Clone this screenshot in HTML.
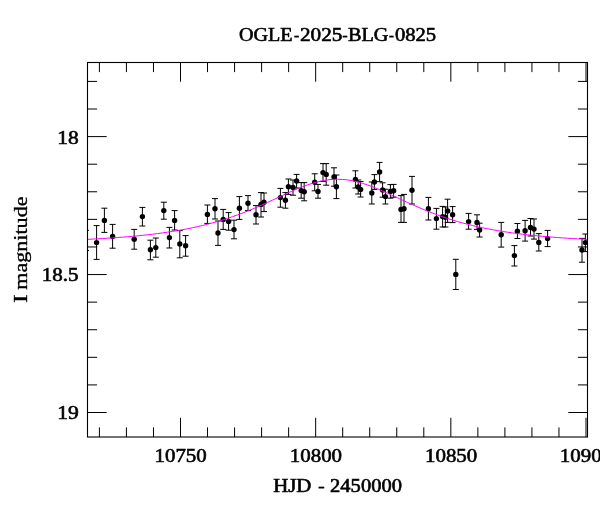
<!DOCTYPE html>
<html><head><meta charset="utf-8"><title>OGLE-2025-BLG-0825</title>
<style>
html,body{margin:0;padding:0;background:#fff;}
body{width:600px;height:512px;overflow:hidden;}
svg{display:block;}
text{font-family:"Liberation Serif",serif;fill:#000;font-kerning:none;}
</style></head><body>
<svg width="600" height="512" viewBox="0 0 600 512">
<rect width="600" height="512" fill="#fff"/>
<path d="M99.40 437.0v-9.6M99.40 62.5v9.6M126.43 437.0v-9.6M126.43 62.5v9.6M153.47 437.0v-9.6M153.47 62.5v9.6M180.50 437.0v-19.2M180.50 62.5v19.2M207.53 437.0v-9.6M207.53 62.5v9.6M234.57 437.0v-9.6M234.57 62.5v9.6M261.60 437.0v-9.6M261.60 62.5v9.6M288.63 437.0v-9.6M288.63 62.5v9.6M315.66 437.0v-19.2M315.66 62.5v19.2M342.70 437.0v-9.6M342.70 62.5v9.6M369.73 437.0v-9.6M369.73 62.5v9.6M396.76 437.0v-9.6M396.76 62.5v9.6M423.80 437.0v-9.6M423.80 62.5v9.6M450.83 437.0v-19.2M450.83 62.5v19.2M477.86 437.0v-9.6M477.86 62.5v9.6M504.90 437.0v-9.6M504.90 62.5v9.6M531.93 437.0v-9.6M531.93 62.5v9.6M558.96 437.0v-9.6M558.96 62.5v9.6M586.00 437.0v-19.2M586.00 62.5v19.2M87.5 81.42h9.6M587.5 81.42h-9.6M87.5 109.01h9.6M587.5 109.01h-9.6M87.5 136.60h19.2M587.5 136.60h-19.2M87.5 164.19h9.6M587.5 164.19h-9.6M87.5 191.78h9.6M587.5 191.78h-9.6M87.5 219.37h9.6M587.5 219.37h-9.6M87.5 246.96h9.6M587.5 246.96h-9.6M87.5 274.55h19.2M587.5 274.55h-19.2M87.5 302.14h9.6M587.5 302.14h-9.6M87.5 329.73h9.6M587.5 329.73h-9.6M87.5 357.32h9.6M587.5 357.32h-9.6M87.5 384.91h9.6M587.5 384.91h-9.6M87.5 412.50h19.2M587.5 412.50h-19.2" stroke="#000" stroke-width="1.0" fill="none"/>
<clipPath id="c"><rect x="87.5" y="62.5" width="500.0" height="374.5"/></clipPath>
<g clip-path="url(#c)"><path d="M86.0 230.3V250.5M83.0 230.3h6.0M83.0 250.5h6.0M96.6 225.6V259.4M93.6 225.6h6.0M93.6 259.4h6.0M104.4 208.2V232.4M101.4 208.2h6.0M101.4 232.4h6.0M112.6 224.4V248.2M109.6 224.4h6.0M109.6 248.2h6.0M134.2 229.4V249.2M131.2 229.4h6.0M131.2 249.2h6.0M142.4 207.4V226.0M139.4 207.4h6.0M139.4 226.0h6.0M150.4 240.2V259.8M147.4 240.2h6.0M147.4 259.8h6.0M155.8 238.0V257.2M152.8 238.0h6.0M152.8 257.2h6.0M163.8 202.2V219.2M160.8 202.2h6.0M160.8 219.2h6.0M169.4 227.4V248.0M166.4 227.4h6.0M166.4 248.0h6.0M174.6 210.6V230.0M171.6 210.6h6.0M171.6 230.0h6.0M179.8 230.6V257.8M176.8 230.6h6.0M176.8 257.8h6.0M185.6 235.6V256.2M182.6 235.6h6.0M182.6 256.2h6.0M207.4 205.0V223.4M204.4 205.0h6.0M204.4 223.4h6.0M215.0 198.6V219.0M212.0 198.6h6.0M212.0 219.0h6.0M218.0 221.0V245.4M215.0 221.0h6.0M215.0 245.4h6.0M223.2 209.4V229.4M220.2 209.4h6.0M220.2 229.4h6.0M228.6 212.6V230.2M225.6 212.6h6.0M225.6 230.2h6.0M234.0 220.2V238.8M231.0 220.2h6.0M231.0 238.8h6.0M239.4 196.6V219.4M236.4 196.6h6.0M236.4 219.4h6.0M248.0 195.6V210.6M245.0 195.6h6.0M245.0 210.6h6.0M256.0 205.6V224.0M253.0 205.6h6.0M253.0 224.0h6.0M261.0 192.6V217.0M258.0 192.6h6.0M258.0 217.0h6.0M264.0 193.0V211.6M261.0 193.0h6.0M261.0 211.6h6.0M280.4 188.4V207.2M277.4 188.4h6.0M277.4 207.2h6.0M285.4 192.6V208.2M282.4 192.6h6.0M282.4 208.2h6.0M288.4 179.0V194.4M285.4 179.0h6.0M285.4 194.4h6.0M293.0 180.0V195.2M290.0 180.0h6.0M290.0 195.2h6.0M296.6 174.4V188.0M293.6 174.4h6.0M293.6 188.0h6.0M301.2 182.6V198.2M298.2 182.6h6.0M298.2 198.2h6.0M304.2 182.6V200.8M301.2 182.6h6.0M301.2 200.8h6.0M314.7 173.8V190.8M311.7 173.8h6.0M311.7 190.8h6.0M318.0 184.4V198.2M315.0 184.4h6.0M315.0 198.2h6.0M323.0 163.6V181.4M320.0 163.6h6.0M320.0 181.4h6.0M326.2 163.6V185.2M323.2 163.6h6.0M323.2 185.2h6.0M334.0 167.8V186.2M331.0 167.8h6.0M331.0 186.2h6.0M336.4 175.0V198.6M333.4 175.0h6.0M333.4 198.6h6.0M355.4 170.8V188.0M352.4 170.8h6.0M352.4 188.0h6.0M358.2 180.0V194.0M355.2 180.0h6.0M355.2 194.0h6.0M360.6 181.6V197.0M357.6 181.6h6.0M357.6 197.0h6.0M371.8 182.0V204.0M368.8 182.0h6.0M368.8 204.0h6.0M374.4 174.6V189.4M371.4 174.6h6.0M371.4 189.4h6.0M379.6 162.4V181.6M376.6 162.4h6.0M376.6 181.6h6.0M382.6 182.8V197.2M379.6 182.8h6.0M379.6 197.2h6.0M385.4 189.2V204.0M382.4 189.2h6.0M382.4 204.0h6.0M390.4 184.6V198.2M387.4 184.6h6.0M387.4 198.2h6.0M393.6 184.4V197.2M390.6 184.4h6.0M390.6 197.2h6.0M401.0 195.6V222.4M398.0 195.6h6.0M398.0 222.4h6.0M404.0 194.4V222.4M401.0 194.4h6.0M401.0 222.4h6.0M412.0 176.4V204.0M409.0 176.4h6.0M409.0 204.0h6.0M428.4 197.4V220.0M425.4 197.4h6.0M425.4 220.0h6.0M436.4 208.4V229.2M433.4 208.4h6.0M433.4 229.2h6.0M442.6 206.4V227.0M439.6 206.4h6.0M439.6 227.0h6.0M445.4 207.0V227.0M442.4 207.0h6.0M442.4 227.0h6.0M447.6 199.2V222.4M444.6 199.2h6.0M444.6 222.4h6.0M452.6 206.6V222.6M449.6 206.6h6.0M449.6 222.6h6.0M455.8 259.3V289.5M452.8 259.3h6.0M452.8 289.5h6.0M468.6 213.4V229.2M465.6 213.4h6.0M465.6 229.2h6.0M477.0 214.8V229.4M474.0 214.8h6.0M474.0 229.4h6.0M479.6 223.2V237.0M476.6 223.2h6.0M476.6 237.0h6.0M501.2 222.4V247.1M498.2 222.4h6.0M498.2 247.1h6.0M514.4 245.6V266.0M511.4 245.6h6.0M511.4 266.0h6.0M517.4 223.5V238.5M514.4 223.5h6.0M514.4 238.5h6.0M525.1 220.4V241.1M522.1 220.4h6.0M522.1 241.1h6.0M530.5 218.5V236.0M527.5 218.5h6.0M527.5 236.0h6.0M534.0 219.0V239.1M531.0 219.0h6.0M531.0 239.1h6.0M538.8 233.6V251.0M535.8 233.6h6.0M535.8 251.0h6.0M547.6 230.4V246.6M544.6 230.4h6.0M544.6 246.6h6.0M582.0 238.4V262.2M579.0 238.4h6.0M579.0 262.2h6.0M585.4 234.0V251.6M582.4 234.0h6.0M582.4 251.6h6.0" stroke="#000" stroke-width="1.0" fill="none"/>
<circle cx="96.6" cy="242.6" r="2.7"/><circle cx="104.4" cy="220.4" r="2.7"/><circle cx="112.6" cy="236.4" r="2.7"/><circle cx="134.2" cy="239.2" r="2.7"/><circle cx="142.4" cy="216.6" r="2.7"/><circle cx="150.4" cy="249.8" r="2.7"/><circle cx="155.8" cy="247.6" r="2.7"/><circle cx="163.8" cy="210.6" r="2.7"/><circle cx="169.4" cy="237.6" r="2.7"/><circle cx="174.6" cy="220.4" r="2.7"/><circle cx="179.8" cy="244.0" r="2.7"/><circle cx="185.6" cy="245.8" r="2.7"/><circle cx="207.4" cy="214.4" r="2.7"/><circle cx="215.0" cy="208.8" r="2.7"/><circle cx="218.0" cy="233.0" r="2.7"/><circle cx="223.2" cy="219.4" r="2.7"/><circle cx="228.6" cy="221.4" r="2.7"/><circle cx="234.0" cy="229.6" r="2.7"/><circle cx="239.4" cy="208.2" r="2.7"/><circle cx="248.0" cy="203.2" r="2.7"/><circle cx="256.0" cy="214.8" r="2.7"/><circle cx="261.0" cy="204.4" r="2.7"/><circle cx="264.0" cy="202.2" r="2.7"/><circle cx="280.4" cy="197.6" r="2.7"/><circle cx="285.4" cy="200.2" r="2.7"/><circle cx="288.4" cy="186.8" r="2.7"/><circle cx="293.0" cy="187.4" r="2.7"/><circle cx="296.6" cy="181.0" r="2.7"/><circle cx="301.2" cy="190.6" r="2.7"/><circle cx="304.2" cy="191.8" r="2.7"/><circle cx="314.7" cy="182.3" r="2.7"/><circle cx="318.0" cy="191.4" r="2.7"/><circle cx="323.0" cy="172.6" r="2.7"/><circle cx="326.2" cy="174.4" r="2.7"/><circle cx="334.0" cy="177.0" r="2.7"/><circle cx="336.4" cy="186.8" r="2.7"/><circle cx="355.4" cy="179.4" r="2.7"/><circle cx="358.2" cy="187.0" r="2.7"/><circle cx="360.6" cy="189.4" r="2.7"/><circle cx="371.8" cy="193.0" r="2.7"/><circle cx="374.4" cy="182.0" r="2.7"/><circle cx="379.6" cy="172.0" r="2.7"/><circle cx="382.6" cy="190.0" r="2.7"/><circle cx="385.4" cy="196.6" r="2.7"/><circle cx="390.4" cy="191.4" r="2.7"/><circle cx="393.6" cy="190.8" r="2.7"/><circle cx="401.0" cy="209.4" r="2.7"/><circle cx="404.0" cy="208.8" r="2.7"/><circle cx="412.0" cy="190.2" r="2.7"/><circle cx="428.4" cy="208.8" r="2.7"/><circle cx="436.4" cy="218.6" r="2.7"/><circle cx="442.6" cy="216.6" r="2.7"/><circle cx="445.4" cy="217.2" r="2.7"/><circle cx="447.6" cy="211.0" r="2.7"/><circle cx="452.6" cy="214.8" r="2.7"/><circle cx="455.8" cy="274.4" r="2.7"/><circle cx="468.6" cy="221.6" r="2.7"/><circle cx="477.0" cy="222.4" r="2.7"/><circle cx="479.6" cy="230.0" r="2.7"/><circle cx="501.2" cy="234.7" r="2.7"/><circle cx="514.4" cy="255.6" r="2.7"/><circle cx="517.4" cy="231.2" r="2.7"/><circle cx="525.1" cy="230.8" r="2.7"/><circle cx="530.5" cy="227.4" r="2.7"/><circle cx="534.0" cy="229.1" r="2.7"/><circle cx="538.8" cy="242.4" r="2.7"/><circle cx="547.6" cy="238.6" r="2.7"/><circle cx="582.0" cy="250.0" r="2.7"/><circle cx="585.4" cy="242.6" r="2.7"/></g>
<path d="M87.5 239.35 L90.0 239.22 L92.5 239.09 L95.0 238.96 L97.5 238.82 L100.0 238.68 L102.5 238.53 L105.0 238.38 L107.5 238.22 L110.0 238.06 L112.5 237.89 L115.0 237.71 L117.5 237.53 L120.0 237.34 L122.5 237.15 L125.0 236.95 L127.5 236.74 L130.0 236.53 L132.5 236.30 L135.0 236.07 L137.5 235.83 L140.0 235.58 L142.5 235.33 L145.0 235.06 L147.5 234.78 L150.0 234.50 L152.5 234.20 L155.0 233.90 L157.5 233.58 L160.0 233.25 L162.5 232.91 L165.0 232.55 L167.5 232.19 L170.0 231.81 L172.5 231.42 L175.0 231.01 L177.5 230.59 L180.0 230.15 L182.5 229.70 L185.0 229.23 L187.5 228.75 L190.0 228.25 L192.5 227.73 L195.0 227.19 L197.5 226.64 L200.0 226.07 L202.5 225.47 L205.0 224.86 L207.5 224.23 L210.0 223.57 L212.5 222.90 L215.0 222.20 L217.5 221.48 L220.0 220.74 L222.5 219.98 L225.0 219.19 L227.5 218.38 L230.0 217.54 L232.5 216.69 L235.0 215.81 L237.5 214.90 L240.0 213.98 L242.5 213.03 L245.0 212.05 L247.5 211.06 L250.0 210.04 L252.5 209.00 L255.0 207.94 L257.5 206.87 L260.0 205.78 L262.5 204.67 L265.0 203.54 L267.5 202.40 L270.0 201.26 L272.5 200.10 L275.0 198.94 L277.5 197.78 L280.0 196.62 L282.5 195.46 L285.0 194.30 L287.5 193.16 L290.0 192.04 L292.5 190.93 L295.0 189.84 L297.5 188.79 L300.0 187.76 L302.5 186.77 L305.0 185.83 L307.5 184.93 L310.0 184.08 L312.5 183.29 L315.0 182.56 L317.5 181.89 L320.0 181.29 L322.5 180.76 L325.0 180.31 L327.5 179.94 L330.0 179.64 L332.5 179.43 L335.0 179.31 L337.5 179.27 L340.0 179.31 L342.5 179.44 L345.0 179.65 L347.5 179.95 L350.0 180.33 L352.5 180.78 L355.0 181.31 L357.5 181.91 L360.0 182.58 L362.5 183.32 L365.0 184.11 L367.5 184.96 L370.0 185.86 L372.5 186.81 L375.0 187.80 L377.5 188.83 L380.0 189.88 L382.5 190.97 L385.0 192.08 L387.5 193.21 L390.0 194.35 L392.5 195.50 L395.0 196.66 L397.5 197.82 L400.0 198.99 L402.5 200.15 L405.0 201.30 L407.5 202.45 L410.0 203.58 L412.5 204.71 L415.0 205.82 L417.5 206.91 L420.0 207.99 L422.5 209.04 L425.0 210.08 L427.5 211.10 L430.0 212.09 L432.5 213.06 L435.0 214.01 L437.5 214.94 L440.0 215.84 L442.5 216.72 L445.0 217.58 L447.5 218.41 L450.0 219.22 L452.5 220.01 L455.0 220.77 L457.5 221.51 L460.0 222.23 L462.5 222.92 L465.0 223.60 L467.5 224.25 L470.0 224.88 L472.5 225.50 L475.0 226.09 L477.5 226.66 L480.0 227.22 L482.5 227.75 L485.0 228.27 L487.5 228.77 L490.0 229.25 L492.5 229.72 L495.0 230.17 L497.5 230.61 L500.0 231.03 L502.5 231.43 L505.0 231.82 L507.5 232.20 L510.0 232.57 L512.5 232.92 L515.0 233.26 L517.5 233.59 L520.0 233.91 L522.5 234.21 L525.0 234.51 L527.5 234.79 L530.0 235.07 L532.5 235.34 L535.0 235.59 L537.5 235.84 L540.0 236.08 L542.5 236.31 L545.0 236.53 L547.5 236.75 L550.0 236.96 L552.5 237.16 L555.0 237.35 L557.5 237.54 L560.0 237.72 L562.5 237.89 L565.0 238.06 L567.5 238.23 L570.0 238.38 L572.5 238.54 L575.0 238.68 L577.5 238.83 L580.0 238.96 L582.5 239.10 L585.0 239.23 L587.5 239.35" stroke="#ff00ff" stroke-width="1.0" fill="none"/>
<rect x="87.5" y="62.5" width="500.0" height="374.5" fill="none" stroke="#000" stroke-width="1.1"/>
<g opacity="0.999">
<text transform="translate(238.98 40.80) scale(1.0852 1.0)" font-size="18.5" stroke="#000" stroke-width="0.6">OGLE</text>
<text transform="translate(293.72 40.80) scale(0.9156 1.0)" font-size="18.5" stroke="#000" stroke-width="0.3">-</text>
<text transform="translate(299.97 40.80) scale(1.1448 1.0)" font-size="18.5" stroke="#000" stroke-width="0.6">2025</text>
<text transform="translate(342.24 40.80) scale(0.8948 1.0)" font-size="18.5" stroke="#000" stroke-width="0.3">-</text>
<text transform="translate(347.92 40.80) scale(1.0923 1.0)" font-size="18.5" stroke="#000" stroke-width="0.6">BLG</text>
<text transform="translate(388.85 40.80) scale(0.8740 1.0)" font-size="18.5" stroke="#000" stroke-width="0.3">-</text>
<text transform="translate(394.91 40.80) scale(1.1160 1.0)" font-size="18.5" stroke="#000" stroke-width="0.6">0825</text>
<text transform="translate(273.20 491.80) scale(1.1272 1.0)" font-size="18.5" stroke="#000" stroke-width="0.6">HJD</text>
<text transform="translate(318.09 491.80) scale(1.1029 1.0)" font-size="18.5" stroke="#000" stroke-width="0.3">-</text>
<text transform="translate(330.10 491.80) scale(1.1102 1.0)" font-size="18.5" stroke="#000" stroke-width="0.6">2450000</text>
<text transform="translate(27.00 302.96) rotate(-90) scale(1.3962 1.05)" font-size="18.5" stroke="#000" stroke-width="0.35">I</text>
<text transform="translate(27.00 289.79) rotate(-90) scale(1.1959 1.05)" font-size="18.5" stroke="#000" stroke-width="0.35">magnitude</text>
<text transform="translate(154.46 462.40) scale(1.1316 1.0)" font-size="18.5" stroke="#000" stroke-width="0.6">10750</text>
<text transform="translate(289.76 462.40) scale(1.1316 1.0)" font-size="18.5" stroke="#000" stroke-width="0.6">10800</text>
<text transform="translate(424.96 462.40) scale(1.1316 1.0)" font-size="18.5" stroke="#000" stroke-width="0.6">10850</text>
<text transform="translate(559.76 462.40) scale(1.1316 1.0)" font-size="18.5" stroke="#000" stroke-width="0.6">10900</text>
<text transform="translate(57.21 143.60) scale(1.1627 1.0)" font-size="18.5" stroke="#000" stroke-width="0.6">18</text>
<text transform="translate(41.65 281.40) scale(1.1357 1.0)" font-size="18.5" stroke="#000" stroke-width="0.6">18.5</text>
<text transform="translate(57.20 419.20) scale(1.1666 1.0)" font-size="18.5" stroke="#000" stroke-width="0.6">19</text>
</g>
</svg>
</body></html>
